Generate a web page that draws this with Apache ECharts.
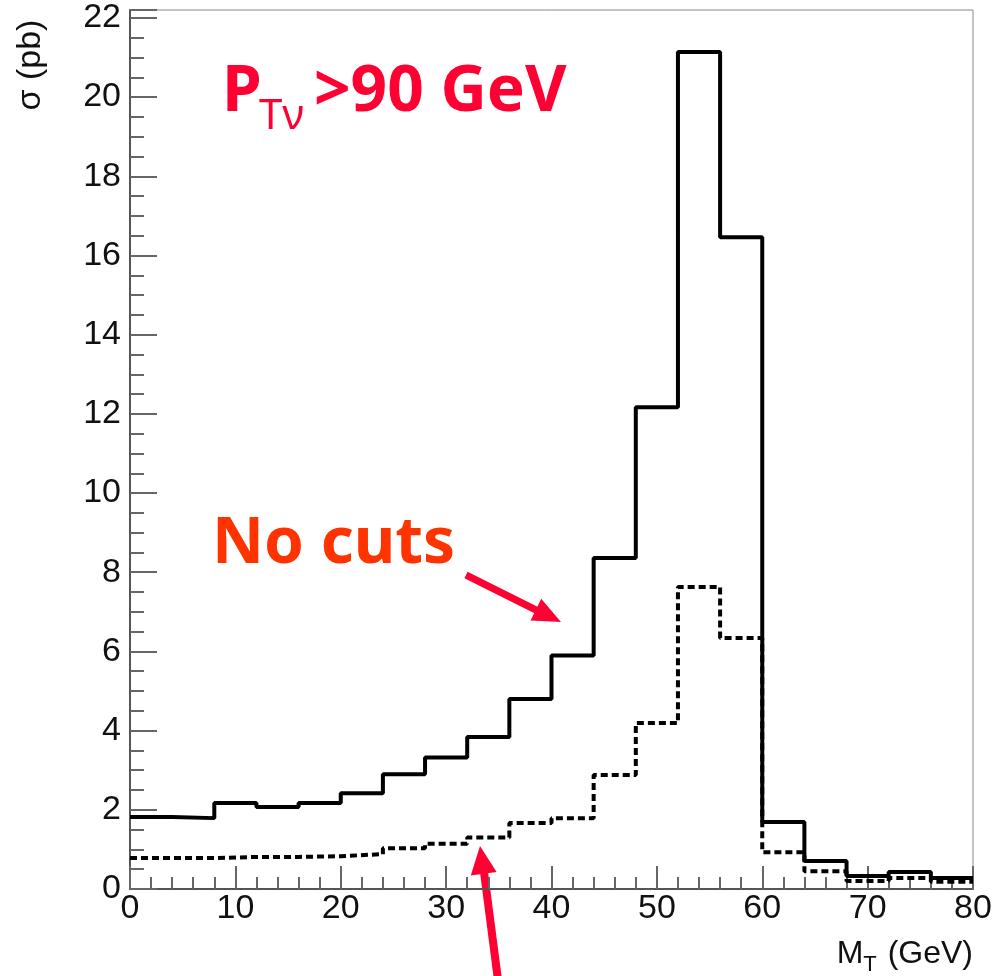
<!DOCTYPE html>
<html>
<head>
<meta charset="utf-8">
<script src="https://cdn.jsdelivr.net/npm/echarts@6/dist/echarts.min.js"></script>
<style>
  html, body { margin: 0; padding: 0; background: #fff; }
  #main { width: 993px; height: 976px; }
</style>
</head>
<body>
<div id="main"></div>
<script>
// bin lower edges (GeV), 4 GeV wide
var binLow = [0, 4, 8, 12, 16, 20, 24, 28, 32, 36, 40, 44, 48, 52, 56, 60, 64, 68, 72, 76];
var binWidth = 4;
// sigma (pb) per bin
var noCuts = [1.82, 1.79, 2.17, 2.07, 2.17, 2.42, 2.90, 3.32, 3.84, 4.80, 5.90, 8.36, 12.17, 21.14, 16.46, 1.69, 0.71, 0.33, 0.43, 0.28];
var ptCut = [0.78, 0.78, 0.81, 0.81, 0.83, 0.88, 1.03, 1.14, 1.30, 1.67, 1.79, 2.88, 4.19, 7.63, 6.34, 0.93, 0.45, 0.20, 0.28, 0.18];
var xTicks = [0, 10, 20, 30, 40, 50, 60, 70, 80];
var yTicks = [0, 2, 4, 6, 8, 10, 12, 14, 16, 18, 20, 22];

function histData(vals) {
  var d = binLow.map(function (x, i) { return [x, vals[i]]; });
  d.push([binLow[binLow.length - 1] + binWidth, vals[vals.length - 1]]);
  return d;
}

var font = 'Liberation Sans';
var handFont = 'Noto Sans';
var red = '#ff0033';

var myChart = echarts.init(document.getElementById('main'));
var option = {
  animation: false,
  grid: {
    left: 130, right: 20, top: 10, bottom: 87,
    outerBoundsMode: 'none',
    containLabel: false,
    show: true, borderColor: '#888', borderWidth: 1, backgroundColor: 'transparent'
  },
  xAxis: {
    type: 'value',
    min: xTicks[0], max: xTicks[xTicks.length - 1], interval: 10,
    name: '{m|M}{sub|T}{m| (GeV)}',
    nameLocation: 'end',
    nameGap: 0,
    nameTextStyle: {
      fontFamily: font, fontSize: 32, color: '#111',
      align: 'right', verticalAlign: 'top', padding: [43, 0, 0, 0],
      rich: {
        m: { fontFamily: font, fontSize: 32, color: '#111' },
        sub: { fontFamily: font, fontSize: 22, color: '#111', padding: [22, 2, 0, 0] }
      }
    },
    axisLine: { lineStyle: { color: '#555', width: 2 } },
    axisTick: { inside: true, length: 23, lineStyle: { color: '#666', width: 2 } },
    minorTick: { show: true, splitNumber: 5, length: 12, lineStyle: { color: '#666', width: 2 } },
    axisLabel: { fontFamily: font, fontSize: 34, color: '#111', margin: 3 },
    splitLine: { show: false }
  },
  yAxis: {
    type: 'value',
    min: yTicks[0], max: 22.2, interval: 2,
    axisLine: { show: true, lineStyle: { color: '#555', width: 2 } },
    axisTick: { show: true, inside: true, length: 27, lineStyle: { color: '#666', width: 2 } },
    minorTick: { show: true, splitNumber: 4, length: 14, lineStyle: { color: '#666', width: 2 } },
    axisLabel: {
      fontFamily: font, fontSize: 34, color: '#111', margin: 9,
      formatter: function (v) { return yTicks.indexOf(v) >= 0 ? String(v) : ''; }
    },
    splitLine: { show: false }
  },
  series: [
    {
      name: 'No cuts',
      type: 'line',
      step: 'end',
      symbol: 'none',
      data: histData(noCuts),
      lineStyle: { color: '#000', width: 4 },
      z: 3
    },
    {
      name: 'PT cut',
      type: 'line',
      step: 'end',
      symbol: 'none',
      data: histData(ptCut),
      lineStyle: { color: '#000', width: 4, type: [7, 4] },
      z: 2
    }
  ],
  graphic: [
    {
      type: 'text', x: 31, y: 65, rotation: Math.PI / 2,
      style: { text: 'σ (pb)', fontFamily: font, fontSize: 34, fill: '#111', align: 'center', verticalAlign: 'middle' }
    },
    {
      type: 'text', x: 222, y: 93,
      style: { text: 'P', fontFamily: handFont, fontWeight: 'bold', fontSize: 64, fill: red, align: 'left', verticalAlign: 'middle' }
    },
    {
      type: 'text', x: 259, y: 117,
      style: { text: 'Tν', fontFamily: handFont, fontSize: 42, fill: red, align: 'left', verticalAlign: 'middle' }
    },
    {
      type: 'text', x: 314, y: 93,
      style: { text: '>90 GeV', fontFamily: handFont, fontWeight: 'bold', fontSize: 64, fill: red, align: 'left', verticalAlign: 'middle' }
    },
    {
      type: 'text', x: 212, y: 545,
      style: { text: 'No cuts', fontFamily: handFont, fontWeight: 'bold', fontSize: 64, fill: '#ff3300', align: 'left', verticalAlign: 'middle' }
    },
    // arrow to the "No cuts" curve
    {
      type: 'line', shape: { x1: 466, y1: 575, x2: 538, y2: 611 },
      style: { stroke: red, lineWidth: 7 }
    },
    {
      type: 'polygon', shape: { points: [[561, 622], [530.6, 620.4], [541.2, 598.8]] },
      style: { fill: red }
    },
    // arrow to the dashed curve
    {
      type: 'line', shape: { x1: 498, y1: 980, x2: 484, y2: 872 },
      style: { stroke: red, lineWidth: 8 }
    },
    {
      type: 'polygon', shape: { points: [[480, 846], [496.6, 872], [470.8, 875.4]] },
      style: { fill: red }
    }
  ]
};
myChart.setOption(option);
</script>
</body>
</html>
